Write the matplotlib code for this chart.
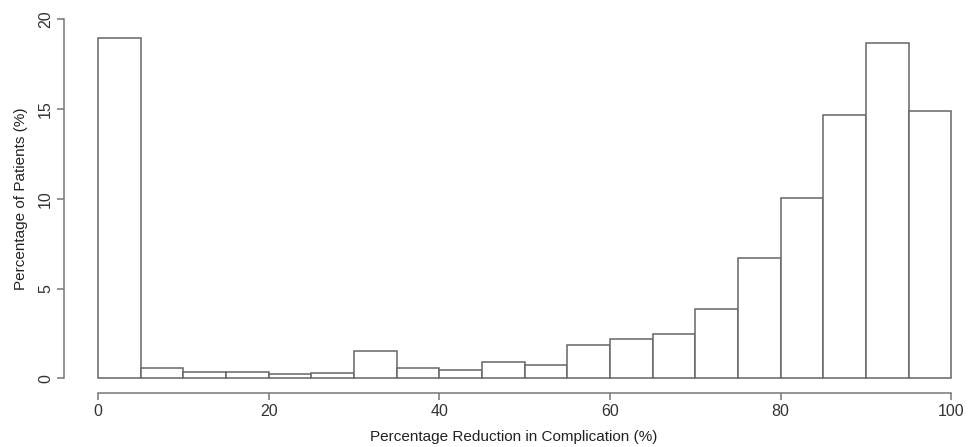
import matplotlib
matplotlib.use("Agg")
import matplotlib.pyplot as plt
import numpy as np

plt.rcParams['font.family'] = ['Liberation Sans', 'DejaVu Sans']

bin_edges = np.arange(0, 100, 5)
pct_patients = [18.92, 0.56, 0.33, 0.35, 0.26, 0.31, 1.52, 0.59, 0.48, 0.89,
                0.72, 1.84, 2.19, 2.48, 3.86, 6.68, 10.03, 14.65, 18.66, 14.87]
xticks = [0, 20, 40, 60, 80, 100]
yticks = [0, 5, 10, 15, 20]

fig = plt.figure(figsize=(9.7, 4.47), dpi=100)
ax = fig.add_axes([64.0/970, 0.1215, 900.0/970, 0.868])

ax.bar(bin_edges, pct_patients, width=5, align='edge', color='white',
       edgecolor='#666666', linewidth=1.1)

ax.set_xlim(-4, 101.5)
ax.set_ylim(-0.8, 20.8)

for s in ['top', 'right']:
    ax.spines[s].set_visible(False)
ax.spines['left'].set_bounds(0, 20)
ax.spines['bottom'].set_bounds(0, 100)
for s in ['left', 'bottom']:
    ax.spines[s].set_color('#777777')
    ax.spines[s].set_linewidth(1.1)

ax.set_xticks(xticks)
ax.set_yticks(yticks)
ax.tick_params(axis='both', direction='out', length=5, width=1.1,
               color='#777777', labelcolor='#333333', labelsize=11.5)
ax.tick_params(axis='x', pad=3)
ax.tick_params(axis='y', pad=3)
for lab in ax.get_yticklabels():
    lab.set_rotation(90)
    lab.set_va('center')

ax.set_xlabel("Percentage Reduction in Complication (%)", fontsize=11,
              color='#222222', labelpad=8)
ax.set_ylabel("Percentage of Patients (%)", fontsize=11, color='#222222',
              labelpad=7)

fig.savefig("out.png", dpi=100)
